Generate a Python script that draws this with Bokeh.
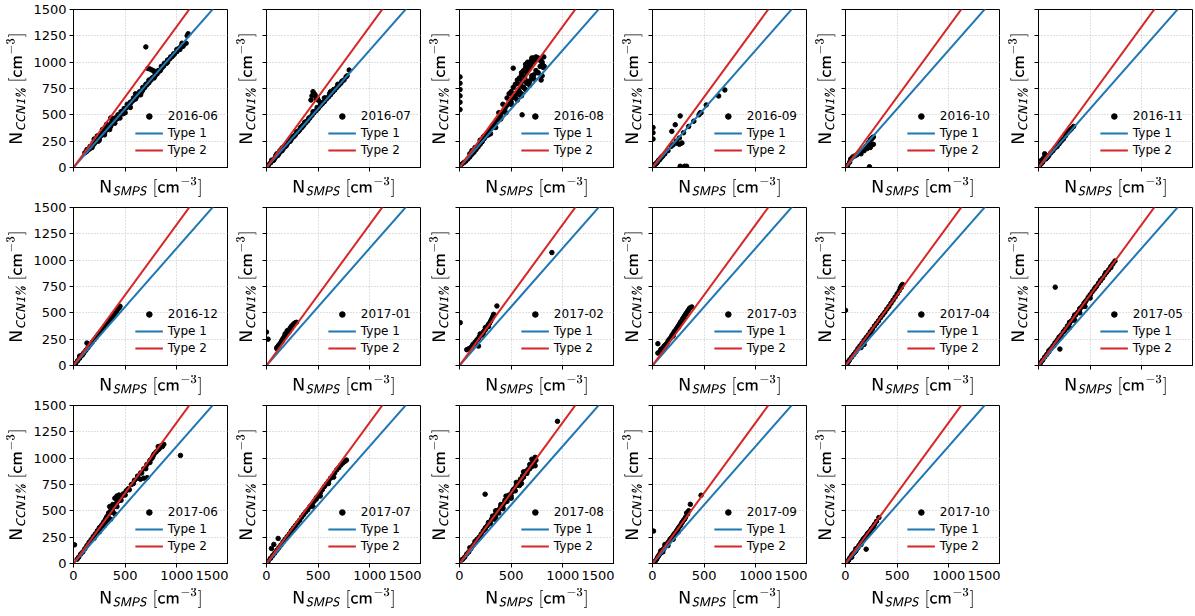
from bokeh.plotting import figure
from bokeh.layouts import gridplot
from bokeh.models import Legend, LegendItem, FixedTicker, Range1d
from bokeh.embed import file_html
from bokeh.resources import INLINE

# ---------------- data ----------------
MONTHS = ["2016-06", "2016-07", "2016-08", "2016-09", "2016-10", "2016-11",
          "2016-12", "2017-01", "2017-02", "2017-03", "2017-04", "2017-05",
          "2017-06", "2017-07", "2017-08", "2017-09", "2017-10"]

TYPE1_SLOPE = 1.115
TYPE2_SLOPE = 1.34
LINE_X = [0, 1500]

X_TICKS = [0, 500, 1000, 1500]
Y_TICKS = [0, 250, 500, 750, 1000, 1250, 1500]

x_2016_06 = [110, 125, 140, 150, 160, 170, 180, 190, 200, 210, 220, 230, 240, 250, 260, 270, 280, 290, 300, 310,
             320, 335, 350, 365, 380, 395, 410, 425, 440, 455, 470, 490, 510, 530, 550, 570, 590, 610, 630, 650,
             670, 690, 710, 730, 750, 770, 790, 810, 830, 850, 870, 890, 910, 930, 950, 975, 1000, 1030, 1060, 1090,
             1110, 200, 230, 280, 320, 360, 700, 720, 740, 760, 780, 800, 1050, 1100, 600, 650,
             250, 300, 350, 400, 450, 500, 550,
             130, 160, 190, 220, 250, 280, 310, 340, 370, 400, 430, 460, 490, 520, 550, 580, 610, 640, 670, 700,
             730, 760, 790, 820, 850, 880, 910, 940, 970, 1000, 1020, 1040, 1070,
             180, 240, 300, 360, 420, 480, 540, 600, 660, 720, 780, 840, 900, 960]
y_2016_06 = [140, 150, 165, 175, 180, 195, 205, 215, 225, 240, 250, 260, 275, 285, 300, 305, 320, 330, 340, 350,
             365, 380, 395, 410, 425, 445, 460, 475, 490, 505, 520, 540, 565, 585, 605, 630, 650, 670, 690, 715,
             735, 760, 785, 805, 830, 855, 870, 890, 915, 940, 960, 985, 1000, 1030, 1050, 1075, 1100, 1120, 1150, 1180,
             1270, 270, 300, 360, 410, 470, 1145, 940, 935, 925, 915, 905, 1180, 1250, 700, 690,
             260, 310, 360, 420, 470, 520, 570,
             170, 200, 235, 265, 300, 335, 370, 400, 430, 470, 500, 530, 560, 600, 620, 660, 690, 720, 760, 790,
             830, 850, 890, 920, 960, 990, 1020, 1050, 1080, 1120, 1130, 1150, 1170,
             190, 250, 320, 390, 460, 510, 580, 650, 720, 800, 850, 920, 990, 1060]

x_2016_07 = [20, 40, 60, 80, 100, 120, 140, 160, 180, 200, 220, 240, 260, 280, 300, 320, 340, 360, 380, 400,
             420, 440, 460, 480, 500, 520, 540, 560, 580, 600, 620, 640, 660, 680, 700, 720, 750, 780, 800,
             430, 450, 470, 490, 100, 150, 250, 350, 560, 620,
             50, 90, 130, 170, 210, 250, 290, 330, 370, 410, 450, 490, 530, 570, 610, 650, 690, 730, 770,
             70, 110, 150, 190, 230, 270, 310, 350, 390, 440, 460, 480, 500, 520]
y_2016_07 = [25, 45, 65, 88, 110, 130, 155, 175, 200, 222, 245, 268, 290, 310, 335, 355, 378, 400, 425, 445,
             470, 495, 520, 540, 560, 585, 605, 625, 650, 670, 690, 715, 735, 760, 780, 800, 830, 870, 925,
             640, 720, 690, 660, 130, 185, 290, 400, 660, 720,
             70, 115, 160, 200, 250, 290, 340, 380, 430, 470, 530, 570, 610, 660, 700, 740, 790, 820, 860,
             70, 115, 160, 205, 250, 300, 345, 390, 440, 680, 700, 650, 640, 620]

x_2016_08 = [5, 5, 5, 5, 5, 5,
             20, 40, 60, 80, 100, 120, 140, 160, 180, 200, 220, 240, 260, 280, 300, 150, 200, 230, 120, 100,
             320, 340, 360, 380, 400, 420, 440, 460, 480, 500, 350, 400, 450, 500, 520, 540, 380, 420, 460,
             550, 570, 590, 610, 630, 650, 670, 690, 710, 730, 750, 770, 790, 800, 810, 800, 790, 760, 720,
             700, 680, 650, 620, 600, 580, 640, 600, 560, 520, 660, 700, 606, 816,
             480, 500, 520, 540, 560, 580, 600, 620, 640, 660, 680, 700, 720, 740, 760, 780, 800, 820,
             500, 540, 580, 620, 660, 700, 740, 780, 560, 600, 640, 680, 720, 760,
             300, 320, 340, 260, 280, 240]
y_2016_08 = [550, 620, 680, 740, 800, 860,
             30, 45, 60, 80, 100, 125, 145, 170, 195, 220, 245, 275, 300, 310, 320, 190, 260, 290, 160, 130,
             380, 420, 450, 470, 500, 530, 560, 590, 620, 650, 380, 460, 520, 600, 680, 700, 520, 600, 660,
             700, 740, 780, 820, 860, 900, 930, 960, 1000, 1020, 1040, 1030, 1010, 980, 950, 870, 830, 900, 880,
             850, 820, 800, 760, 700, 690, 980, 900, 800, 943, 1000, 1040, 500, 1050,
             700, 720, 760, 790, 830, 850, 880, 920, 950, 970, 1000, 1020, 1040, 1050, 1040, 1020, 1000, 960,
             620, 660, 720, 760, 820, 870, 920, 960, 640, 680, 740, 780, 840, 900,
             360, 400, 420, 320, 340, 300]

x_2016_09 = [5, 5, 5, 10, 20, 30, 40, 50, 60, 70, 80, 90, 100, 120, 150, 180, 200, 230, 260, 300,
             350, 400, 450, 470, 520, 640, 700, 461, 268, 220, 187, 285, 268, 310, 330, 260, 240]
y_2016_09 = [330, 270, 380, 10, 25, 35, 40, 55, 70, 75, 90, 100, 110, 130, 160, 200, 215, 250, 280, 330,
             390, 440, 500, 520, 594, 679, 736, 519, 490, 406, 343, 233, 12, 12, 12, 220, 230]

x_2016_10 = [20, 40, 50, 70, 90, 110, 130, 150, 170, 190, 200, 210, 220, 230, 240, 250, 260, 270,
             210, 230, 250, 270, 240, 232, 150, 180]
y_2016_10 = [20, 50, 80, 100, 110, 120, 140, 150, 170, 190, 200, 210, 230, 240, 260, 270, 280, 290,
             180, 200, 210, 220, 190, 7, 130, 160]

x_2016_11 = [10, 20, 30, 40, 50, 60, 65, 70, 80, 90, 100, 120, 140, 160, 180, 200, 220, 240, 260, 270,
             280, 300, 320, 340, 310, 290, 30, 40]
y_2016_11 = [20, 30, 40, 60, 90, 130, 110, 80, 90, 100, 115, 140, 160, 185, 200, 225, 250, 270, 300, 320,
             330, 350, 370, 390, 360, 340, 70, 50]

x_2016_12 = [20, 40, 60, 80, 100, 120, 130, 140, 160, 180, 200, 220, 240, 260, 280, 300, 320, 340, 360, 380,
             400, 420, 440, 450, 430, 410, 390, 370, 60, 90]
y_2016_12 = [20, 45, 70, 95, 120, 145, 213, 170, 195, 220, 245, 270, 295, 320, 345, 370, 395, 420, 445, 470,
             495, 520, 545, 562, 540, 510, 480, 450, 90, 105]

x_2017_01 = [0, 15, 100, 110, 120, 130, 140, 150, 160, 170, 180, 190, 200, 210, 220, 230, 240, 250, 260, 270,
             280, 290, 200, 220, 180, 240, 150, 100]
y_2017_01 = [317, 250, 170, 180, 195, 205, 220, 240, 255, 270, 285, 300, 315, 325, 340, 355, 370, 380, 390, 400,
             405, 410, 330, 320, 300, 350, 230, 160]

x_2017_02 = [7, 894, 362, 184, 70, 90, 110, 120, 130, 150, 160, 170, 180, 190, 200, 210, 220, 230, 240, 250,
             260, 270, 280, 290, 300, 310, 320, 330, 250, 200, 150, 280, 230]
y_2017_02 = [407, 1072, 565, 184, 150, 160, 170, 180, 200, 210, 230, 245, 250, 270, 280, 290, 300, 315, 330, 340,
             360, 370, 390, 400, 420, 440, 460, 486, 360, 300, 220, 370, 290]

x_2017_03 = [52, 52, 70, 80, 90, 100, 110, 120, 130, 140, 150, 160, 170, 180, 190, 200, 210, 220, 230, 240,
             250, 260, 270, 280, 290, 300, 310, 320, 330, 340, 350, 360, 380, 120, 200, 250]
y_2017_03 = [207, 118, 130, 150, 160, 150, 180, 190, 200, 210, 230, 245, 255, 270, 290, 300, 320, 330, 345, 360,
             375, 390, 410, 420, 440, 455, 470, 485, 500, 515, 530, 545, 556, 170, 280, 360]

x_2017_04 = [0, 10, 20, 30, 40, 60, 80, 100, 120, 140, 160, 180, 200, 220, 240, 260, 280, 300, 320, 340,
             360, 380, 400, 420, 440, 460, 480, 500, 520, 540, 552, 540, 530, 150, 200, 250, 180]
y_2017_04 = [524, 6, 25, 40, 55, 80, 105, 130, 160, 185, 210, 240, 265, 290, 320, 345, 375, 400, 425, 455,
             480, 505, 535, 560, 590, 620, 650, 680, 710, 740, 769, 755, 735, 170, 250, 310, 200]

x_2017_05 = [20, 40, 60, 80, 100, 120, 140, 160, 180, 200, 220, 240, 260, 280, 300, 320, 340, 360, 380, 400,
             420, 440, 460, 480, 500, 520, 540, 560, 580, 600, 620, 640, 660, 680, 700, 720, 740,
             162, 207, 300, 400, 500, 350, 450,
             100, 200, 300, 400, 500, 600, 700, 150, 250, 350, 450, 550, 650]
y_2017_05 = [25, 50, 80, 105, 130, 160, 185, 215, 240, 265, 290, 320, 345, 375, 400, 425, 455, 480, 505, 535,
             560, 590, 615, 645, 670, 700, 725, 750, 780, 805, 830, 860, 885, 910, 940, 965, 992,
             744, 156, 360, 500, 640, 430, 560,
             140, 270, 410, 540, 670, 810, 930, 190, 330, 480, 600, 740, 880]

x_2017_06 = [10, 35, 50, 70, 90, 110, 130, 150, 170, 190, 210, 230, 250, 270, 290, 310, 330, 350, 370, 390,
             410, 430, 450, 470, 490, 510, 530, 560, 590, 620, 650, 680, 710, 740, 770, 800, 830, 874,
             1035, 648, 680, 713, 300, 350, 380, 400, 420, 440, 330, 360, 400, 250, 200, 760, 820, 850,
             260, 280, 300, 320, 340, 360, 380, 400, 420, 440, 460, 480, 300, 340, 380, 420, 460, 500,
             540, 580, 620, 660, 700, 740, 780, 820, 860]
y_2017_06 = [177, 41, 60, 90, 110, 140, 170, 200, 225, 255, 280, 310, 340, 360, 390, 420, 450, 480, 510, 540,
             560, 590, 610, 640, 660, 690, 710, 750, 790, 830, 860, 900, 940, 980, 1020, 1060, 1090, 1131,
             1026, 800, 810, 815, 360, 540, 560, 620, 640, 650, 400, 420, 470, 300, 240, 1000, 1110, 1120,
             330, 370, 400, 440, 480, 500, 530, 560, 600, 620, 640, 660, 370, 430, 490, 540, 600, 650,
             700, 760, 810, 860, 900, 960, 1040, 1080, 1110]

x_2017_07 = [16, 48, 71, 113, 40, 60, 80, 100, 120, 140, 160, 180, 200, 220, 240, 260, 280, 300, 320, 340,
             360, 380, 400, 420, 440, 460, 480, 500, 520, 540, 560, 580, 600, 620, 640, 660, 680, 700, 720, 740,
             760, 774, 484, 450, 520, 600, 650]
y_2017_07 = [22, 143, 181, 238, 50, 75, 100, 125, 150, 175, 205, 230, 255, 280, 310, 335, 360, 385, 410, 440,
             465, 490, 510, 540, 560, 590, 610, 640, 670, 700, 730, 755, 780, 810, 830, 860, 890, 910, 935, 955,
             970, 982, 626, 540, 640, 760, 820]

x_2017_08 = [13, 948, 248, 30, 50, 70, 90, 110, 130, 150, 170, 190, 210, 230, 250, 270, 290, 310, 330, 350,
             370, 390, 410, 430, 450, 470, 490, 510, 530, 550, 570, 590, 610, 630, 650, 670, 690, 710, 732, 732,
             652, 600, 500, 400, 350, 450, 550, 620, 680, 700, 720, 300, 200, 350, 420,
             320, 360, 400, 440, 480, 520, 560, 600, 640, 680, 720, 340, 380, 420, 460, 500, 540, 580,
             620, 660, 700, 740, 100, 150, 250, 280]
y_2017_08 = [29, 1350, 658, 40, 60, 90, 110, 140, 170, 200, 230, 250, 280, 310, 340, 360, 390, 420, 440, 470,
             500, 520, 550, 570, 600, 630, 650, 680, 710, 740, 770, 800, 830, 860, 880, 900, 930, 960, 1008, 928,
             855, 760, 620, 560, 500, 640, 770, 870, 940, 990, 950, 380, 250, 440, 530,
             450, 500, 540, 600, 650, 700, 760, 800, 860, 900, 960, 420, 480, 520, 590, 640, 690, 740,
             820, 880, 920, 980, 150, 210, 330, 390]

x_2017_09 = [10, 26, 40, 50, 60, 70, 80, 90, 100, 110, 120, 130, 140, 150, 160, 170, 180, 190, 200, 210,
             220, 230, 240, 250, 260, 270, 280, 290, 300, 310, 320, 340, 366, 470, 100, 150, 200, 250, 120, 80,
             350, 330]
y_2017_09 = [308, 22, 40, 60, 75, 90, 100, 120, 130, 140, 160, 170, 185, 200, 210, 230, 240, 250, 265, 280,
             290, 305, 320, 335, 350, 360, 380, 395, 410, 420, 440, 470, 562, 648, 110, 170, 230, 300, 180, 120,
             500, 480]

x_2017_10 = [16, 30, 40, 50, 60, 70, 80, 90, 100, 110, 120, 130, 140, 150, 160, 170, 180, 190, 200, 210,
             220, 230, 240, 250, 260, 270, 280, 300, 323, 200, 100, 150, 60]
y_2017_10 = [9, 30, 50, 60, 80, 90, 100, 110, 120, 140, 150, 170, 180, 200, 210, 230, 240, 250, 260, 280,
             290, 300, 310, 330, 340, 350, 370, 400, 436, 136, 140, 180, 60]

SERIES = [
    (x_2016_06, y_2016_06), (x_2016_07, y_2016_07), (x_2016_08, y_2016_08),
    (x_2016_09, y_2016_09), (x_2016_10, y_2016_10), (x_2016_11, y_2016_11),
    (x_2016_12, y_2016_12), (x_2017_01, y_2017_01), (x_2017_02, y_2017_02),
    (x_2017_03, y_2017_03), (x_2017_04, y_2017_04), (x_2017_05, y_2017_05),
    (x_2017_06, y_2017_06), (x_2017_07, y_2017_07), (x_2017_08, y_2017_08),
    (x_2017_09, y_2017_09), (x_2017_10, y_2017_10),
]

# ---------------- styling ----------------
FONT = "DejaVu Sans"
BLUE = "#1f77b4"
RED = "#d62728"
NCOLS = 6
FW, FH = 155, 158

XLABEL = r"$$\mathsf{N}_{\mathsfit{SMPS}}\ [\mathsf{cm}^{-3}]$$"
YLABEL = r"$$\mathsf{N}_{\mathsfit{CCN1\%}}\ [\mathsf{cm}^{-3}]$$"


def make_panel(i):
    r, c = divmod(i, NCOLS)
    bottom_row = (r == 2)
    p = figure(frame_width=FW, frame_height=FH,
               x_range=Range1d(0, 1500), y_range=Range1d(0, 1500),
               output_backend="svg", toolbar_location=None,
               min_border_left=73 if c == 0 else 38, min_border_right=0,
               min_border_top=9 if r == 0 else 7,
               min_border_bottom=50 if bottom_row else 28,
               background_fill_color="white", border_fill_color="white")
    xs, ys = SERIES[i]
    sc = p.scatter(xs, ys, size=4.5, color="black")
    l1 = p.line(LINE_X, [TYPE1_SLOPE * v for v in LINE_X], color=BLUE, line_width=2)
    l2 = p.line(LINE_X, [TYPE2_SLOPE * v for v in LINE_X], color=RED, line_width=2)

    p.xaxis.ticker = FixedTicker(ticks=X_TICKS)
    p.yaxis.ticker = FixedTicker(ticks=Y_TICKS)
    p.grid.grid_line_color = "#b0b0b0"
    p.grid.grid_line_dash = "1 2"
    p.grid.grid_line_width = 0.8
    p.axis.major_tick_out = 4
    p.axis.major_tick_in = 0
    p.axis.minor_tick_out = 0
    p.axis.minor_tick_in = 0
    p.axis.axis_line_color = "black"
    p.axis.major_tick_line_color = "black"
    p.axis.major_label_text_font = FONT
    p.axis.major_label_text_font_size = "13px"
    p.axis.major_label_text_color = "black"
    p.axis.axis_label_text_font = FONT
    p.axis.axis_label_text_font_size = "13.5px"
    p.axis.axis_label_text_font_style = "normal"
    p.axis.axis_label_text_color = "black"
    p.outline_line_color = "black"
    p.outline_line_alpha = 1

    p.xaxis.axis_label = XLABEL
    p.yaxis.axis_label = YLABEL

    if not bottom_row:
        p.xaxis.major_label_overrides = {t: "" for t in X_TICKS}
        p.xaxis.major_label_standoff = 0
        p.xaxis.axis_label_standoff = 5
    else:
        p.xaxis.major_label_standoff = 3
        p.xaxis.axis_label_standoff = 5
    if c != 0:
        p.yaxis.major_label_overrides = {t: "" for t in Y_TICKS}
        p.yaxis.major_label_standoff = 0
        p.yaxis.axis_label_standoff = 6
    else:
        p.yaxis.major_label_standoff = 3
        p.yaxis.axis_label_standoff = 4

    legend = Legend(items=[LegendItem(label=MONTHS[i], renderers=[sc]),
                           LegendItem(label="Type 1", renderers=[l1]),
                           LegendItem(label="Type 2", renderers=[l2])],
                    location="bottom_right", margin=0, padding=10,
                    border_line_alpha=0, background_fill_alpha=0,
                    glyph_width=28, glyph_height=14, label_height=14,
                    spacing=3, label_standoff=5,
                    label_text_font=FONT, label_text_font_size="12px",
                    label_text_color="black")
    p.add_layout(legend)
    return p


panels = [make_panel(i) for i in range(len(MONTHS))]
rows = [panels[k:k + NCOLS] for k in range(0, len(panels), NCOLS)]
rows[-1] = rows[-1] + [None] * (NCOLS - len(rows[-1]))
grid = gridplot(rows, toolbar_location=None)

open("out.html", "w").write(file_html(grid, INLINE))
